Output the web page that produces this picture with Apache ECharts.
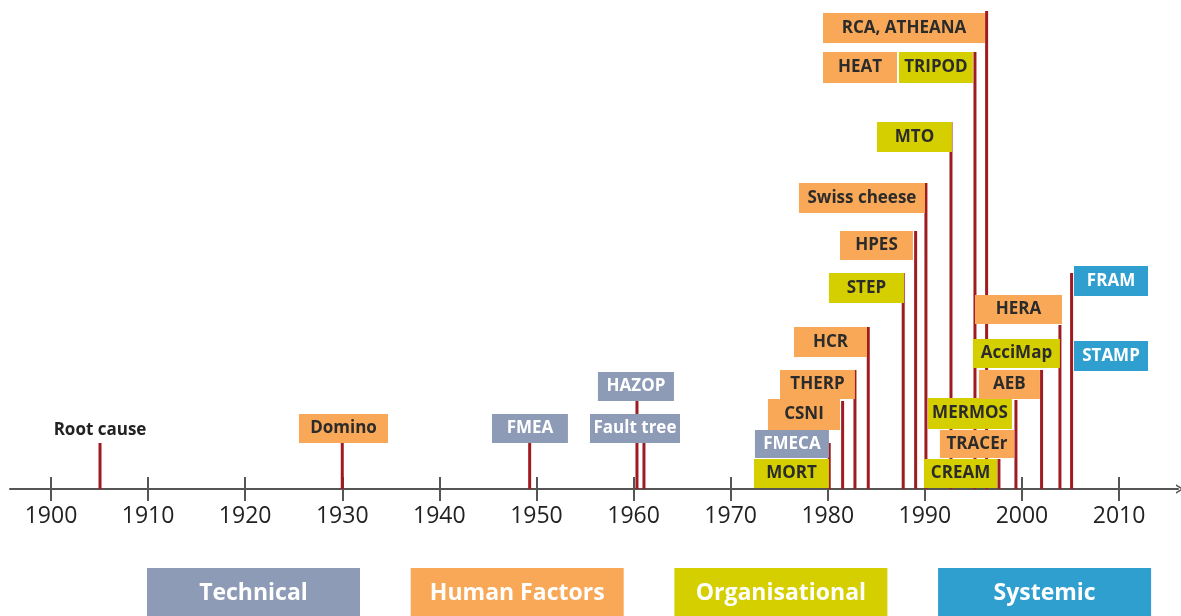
<!DOCTYPE html>
<html>
<head>
<meta charset="utf-8">
<title>Accident analysis methods timeline</title>
<script src="https://cdn.jsdelivr.net/npm/echarts@6/dist/echarts.min.js"></script>
<style>
  html, body { margin: 0; padding: 0; background: #fff; }
  #chart { width: 1181px; height: 616px; }
</style>
</head>
<body>
<div id="chart"></div>
<script>
// categories (legend along the bottom)
var catNames = ['Technical', 'Human Factors', 'Organisational', 'Systemic']
var catColors = ['#8e9bb6', '#f8a856', '#d6cf00', '#2e9fcf']
var catText = ['#ffffff', '#2b2b2b', '#2b2b2b', '#ffffff']

// x axis ticks
var tickYears = [1900, 1910, 1920, 1930, 1940, 1950, 1960, 1970, 1980, 1990, 2000, 2010]

// red marker lines: year and height of top (axis = 0)
var lineYears = [1905.05, 1930, 1949.3, 1960.35, 1961.07, 1980.15, 1981.53, 1982.8, 1984.17, 1987.77,
  1989.05, 1990.11, 1992.69, 1995.16, 1996.36, 1997.63, 1999.38, 2002.02, 2003.91, 2005.11]
var lineTops = [46, 46, 46, 88, 46, 46, 88, 119, 162, 216,
  258, 306, 367, 437, 478, 30, 89, 119, 164, 216]

// method boxes
var boxLabels = ['Domino', 'FMEA', 'Fault tree', 'HAZOP', 'MORT', 'FMECA', 'CSNI', 'THERP', 'HCR', 'STEP',
  'HPES', 'Swiss cheese', 'MTO', 'HEAT', 'TRIPOD', 'RCA, ATHEANA', 'CREAM', 'TRACEr', 'MERMOS', 'AEB',
  'AcciMap', 'HERA', 'FRAM', 'STAMP']
var boxCats = [1, 0, 0, 0, 2, 0, 1, 1, 1, 2,
  1, 1, 2, 1, 2, 1, 2, 1, 2, 1,
  2, 1, 3, 3]
var boxStart = [1925.54, 1945.42, 1955.51, 1956.33, 1972.4, 1972.5, 1973.84, 1975.08, 1976.52, 1980.12,
  1981.26, 1977.03, 1985.07, 1979.51, 1987.33, 1979.51, 1989.91, 1991.55, 1990.32, 1995.57,
  1994.95, 1995.16, 2005.36, 2005.36]
var boxEnd = [1934.71, 1953.24, 1964.78, 1964.16, 1980.12, 1980.12, 1981.26, 1982.8, 1984.04, 1987.85,
  1988.77, 1990.01, 1992.79, 1987.13, 1994.95, 1996.19, 1997.43, 1999.18, 1998.97, 2001.85,
  2003.91, 2004.12, 2012.98, 2012.98]
var boxBottom = [46, 46, 46, 88, 1, 31, 59, 90, 132, 186,
  229, 276, 337, 406, 406, 446, 1, 31, 60, 90,
  121, 165, 193, 118]
var boxTop = [75, 75, 75, 117, 30, 59, 90, 119, 162, 216,
  258, 306, 367, 437, 437, 476, 30, 59, 91, 119,
  150, 194, 223, 148]

// plain text note
var noteLabels = ['Root cause']
var noteYears = [1905.05]
var noteLevels = [59]

var chart = echarts.init(document.getElementById('chart'))

var lineData = lineYears.map(function(y, i) { return [y, lineTops[i]] })
var boxData = boxLabels.map(function(name, i) {
  return [boxStart[i], boxEnd[i], boxBottom[i], boxTop[i], boxCats[i]]
})
var noteData = noteYears.map(function(y, i) { return [y, noteLevels[i]] })

var legendBoxes = catNames.map(function(name, i) {
  var left = 147 + i * 263.7
  return {
    type: 'group',
    children: [
      { type: 'rect', shape: { x: left, y: 568, width: 213, height: 60 }, style: { fill: catColors[i] } },
      {
        type: 'text',
        style: {
          text: name, x: left + 106.5, y: 593, align: 'center', verticalAlign: 'middle',
          fill: '#ffffff', font: 'bold 23px "Open Sans", sans-serif'
        }
      }
    ]
  }
})

chart.setOption({
  animation: false,
  grid: { left: 10, right: 3, top: 0, bottom: 127 },
  xAxis: [{
    type: 'value',
    min: 1895.78,
    max: 2016.07,
    position: 'bottom',
    splitLine: { show: false },
    axisLine: {
      show: true,
      lineStyle: { color: '#555', width: 2 },
      symbol: ['none', 'path://M0,10 L6,0 L12,10 L9.6,10 L6,3.5 L2.4,10 Z'],
      symbolSize: [12, 8],
      symbolOffset: [0, 2]
    },
    axisTick: { show: true, customValues: tickYears, length: 12, lineStyle: { color: '#555', width: 2 } },
    axisLabel: {
      customValues: tickYears,
      formatter: function(v) { return String(v) },
      margin: 16,
      color: '#222',
      fontSize: 23,
      fontFamily: 'Open Sans'
    }
  }, {
    type: 'value',
    min: 1895.78,
    max: 2016.07,
    position: 'bottom',
    splitLine: { show: false },
    axisLine: { show: false },
    axisTick: { show: true, inside: true, customValues: tickYears, length: 12, lineStyle: { color: '#555', width: 2 } },
    axisLabel: { show: false }
  }],
  yAxis: { type: 'value', min: 0, max: 489, show: false },
  graphic: legendBoxes,
  series: [{
    name: 'lines',
    type: 'custom',
    z: 2,
    data: lineData,
    renderItem: function(params, api) {
      var p0 = api.coord([api.value(0), 0])
      var p1 = api.coord([api.value(0), api.value(1)])
      return {
        type: 'line',
        shape: { x1: p0[0], y1: p0[1], x2: p1[0], y2: p1[1] },
        style: { stroke: '#9e1b20', lineWidth: 3 }
      }
    }
  }, {
    name: 'methods',
    type: 'custom',
    z: 3,
    data: boxData,
    renderItem: function(params, api) {
      var tl = api.coord([api.value(0), api.value(3)])
      var br = api.coord([api.value(1), api.value(2)])
      var cat = api.value(4)
      return {
        type: 'group',
        children: [{
          type: 'rect',
          shape: { x: tl[0], y: tl[1], width: br[0] - tl[0], height: br[1] - tl[1] },
          style: { fill: catColors[cat] }
        }, {
          type: 'text',
          style: {
            text: boxLabels[params.dataIndex],
            x: (tl[0] + br[0]) / 2,
            y: (tl[1] + br[1]) / 2,
            align: 'center',
            verticalAlign: 'middle',
            fill: catText[cat],
            font: 'bold 17px "Open Sans", sans-serif'
          }
        }]
      }
    }
  }, {
    name: 'notes',
    type: 'custom',
    z: 3,
    data: noteData,
    renderItem: function(params, api) {
      var p = api.coord([api.value(0), api.value(1)])
      return {
        type: 'text',
        style: {
          text: noteLabels[params.dataIndex],
          x: p[0],
          y: p[1],
          align: 'center',
          verticalAlign: 'middle',
          fill: '#222',
          font: 'bold 17px "Open Sans", sans-serif'
        }
      }
    }
  }]
})
</script>
</body>
</html>
